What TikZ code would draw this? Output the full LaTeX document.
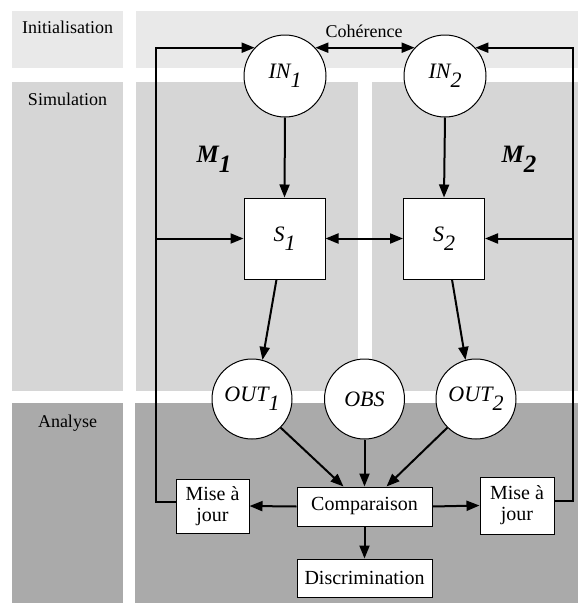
\documentclass[tikz,border=0pt]{standalone}
\usepackage{fontspec}
\setmainfont{Liberation Serif}
\usetikzlibrary{arrows.meta,calc}
\definecolor{initc}{HTML}{E9E9E9}
\definecolor{simc}{HTML}{D6D6D6}
\definecolor{anac}{HTML}{AAAAAA}
\newcommand\mysub[1]{\raisebox{-0.4em}{#1}}
\begin{document}
\begin{tikzpicture}[x=1pt,y=-1pt,
  tip/.tip={Triangle[length=13pt,width=10pt]},
  conn/.style={line width=2pt,-tip},
  conn2/.style={line width=2pt,tip-tip},
  circ/.style={circle,draw,line width=1pt,fill=white,minimum size=80pt,inner sep=0pt,
    font=\fontsize{22}{24}\selectfont\itshape},
  sq/.style={rectangle,draw,line width=1pt,fill=white,minimum width=81pt,minimum height=81pt,
    inner sep=0pt,font=\fontsize{22}{24}\selectfont\itshape},
  box/.style={rectangle,draw,line width=1pt,fill=white,inner sep=0pt,align=center,
    font=\fontsize{20}{21}\selectfont},
  lab/.style={font=\fontsize{18}{20}\selectfont,anchor=base},
  mlab/.style={font=\fontsize{25}{26}\selectfont\bfseries\itshape,anchor=base west}]
\useasboundingbox (0,0) rectangle (578,603);
% bands
\fill[initc] (12,11) rectangle (123,68);
\fill[initc] (136,11) rectangle (578,68);
\fill[simc] (12,82) rectangle (123,391);
\fill[simc] (136,82) rectangle (358,391);
\fill[simc] (372,82) rectangle (578,391);
\fill[anac] (12,403) rectangle (123,603);
\fill[anac] (135,403) rectangle (578,603);
% band labels
\node[lab] (tInit) at (67.5,33) {Initialisation};
\node[lab] (tSim) at (67.5,105) {Simulation};
\node[lab] (tAna) at (67.5,427) {Analyse};
\node[mlab] (M1) at (193,162) {M\mysub{1}};
\node[mlab] (M2) at (498,162) {M\mysub{2}};
% nodes
\node[circ,minimum size=82pt] (IN1) at (285,76) {IN\mysub{1}};
\node[circ,minimum size=82pt] (IN2) at (445,76) {IN\mysub{2}};
\node[sq] (S1) at (284.5,238.5) {S\mysub{1}};
\node[sq] (S2) at (444,238.5) {S\mysub{2}};
\node[circ] (OUT1) at (252,399) {OUT\mysub{1}};
\node[circ] (OBS) at (364.5,399) {OBS};
\node[circ] (OUT2) at (476,399) {OUT\mysub{2}};
\node[box,minimum width=135pt,minimum height=39pt] (Comp) at (364.5,506.5) {Comparaison};
\node[box,minimum width=135pt,minimum height=38pt] (Disc) at (364.5,578) {Discrimination};
\node[box,minimum width=73pt,minimum height=54pt] (ML) at (212.5,506) {Mise à\\jour};
\node[box,minimum width=74pt,minimum height=57pt] (MR) at (517,505.5) {Mise à\\jour};
\node[lab] (tCoh) at (364,37) {Cohérence};
% connectors
\coordinate (cl) at (156,0);
\coordinate (cr) at (573,0);
\draw[conn2] (IN1.43) -- (IN2.137);
\draw[conn] (IN1.south) -- (S1.north);
\draw[conn] (IN2.south) -- (S2.north);
\draw[conn2] (S1.east) -- (S2.west);
\draw[conn] ([xshift=-8pt]S1.south) -- (OUT1.75);
\draw[conn] ([xshift=8pt]S2.south) -- (OUT2.105);
\draw[conn] (OUT1.-45) -- ([xshift=-21pt]Comp.north);
\draw[conn] (OBS.south) -- (Comp.north);
\draw[conn] (OUT2.-135) -- ([xshift=22pt]Comp.north);
\draw[conn] (Comp.west) -- (ML.east);
\draw[conn] (Comp.east) -- (MR.west);
\draw[conn] (Comp.south) -- (Disc.north);
\draw[conn] ([yshift=4pt]ML.west) -| (cl |- IN1.137) -- (IN1.137);
\draw[conn] (cl |- S1.west) -- (S1.west);
\draw[conn] ([yshift=5pt]MR.east) -| (cr |- IN2.43) -- (IN2.43);
\draw[conn] (cr |- S2.east) -- (S2.east);
\end{tikzpicture}
\end{document}
